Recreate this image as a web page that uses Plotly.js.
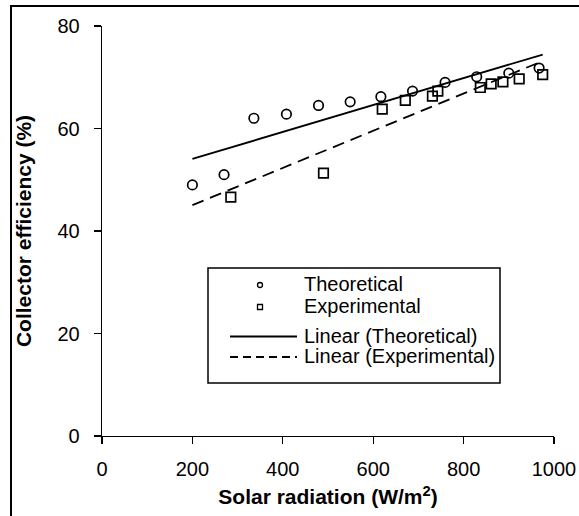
<!DOCTYPE html>
<html>
<head>
<meta charset="utf-8">
<script src="https://cdn.plot.ly/plotly-3.0.1.min.js"></script>
<style>
html,body{margin:0;padding:0;background:#ffffff;}
#chart{width:579px;height:516px;}
</style>
</head>
<body>
<div id="chart"></div>
<script>
// ---- data ----
const theoreticalRadiation = [200, 270, 336, 408, 479, 549, 617, 687, 759, 829, 900, 967];
const theoreticalEfficiency = [49.0, 51.0, 62.0, 62.8, 64.5, 65.2, 66.2, 67.3, 69.0, 70.1, 70.8, 71.8];
const experimentalRadiation = [285, 490, 620, 671, 731, 743, 837, 861, 887, 923, 975];
const experimentalEfficiency = [46.6, 51.3, 63.8, 65.5, 66.3, 67.3, 68.0, 68.7, 69.1, 69.7, 70.5];
const xTickValues = [0, 200, 400, 600, 800, 1000];
const yTickValues = [0, 20, 40, 60, 80];
const seriesNames = ['Theoretical', 'Experimental', 'Linear (Theoretical)', 'Linear (Experimental)'];
const xTitle = 'Solar radiation (W/m<sup>2</sup>)';
const yTitle = 'Collector efficiency (%)';

// ---- least-squares trendlines (Excel "Linear" trendline) ----
function linearFit(xs, ys) {
  const n = xs.length;
  const mx = xs.reduce((s, v) => s + v, 0) / n;
  const my = ys.reduce((s, v) => s + v, 0) / n;
  let sxy = 0, sxx = 0;
  for (let i = 0; i < n; i++) { sxy += (xs[i] - mx) * (ys[i] - my); sxx += (xs[i] - mx) * (xs[i] - mx); }
  const slope = sxy / sxx;
  return { slope: slope, intercept: my - slope * mx };
}
const allX = theoreticalRadiation.concat(experimentalRadiation);
const trendX = [Math.min(...allX), Math.max(...allX)];
const fitT = linearFit(theoreticalRadiation, theoreticalEfficiency);
const fitE = linearFit(experimentalRadiation, experimentalEfficiency);
const trendT = trendX.map(x => fitT.intercept + fitT.slope * x);
const trendE = trendX.map(x => fitE.intercept + fitE.slope * x);

// ---- layout geometry ----
const W = 579, H = 516;
const M = { l: 102, r: 25, t: 26, b: 80 };
const PW = W - M.l - M.r, PH = H - M.t - M.b;
const px = v => (v - M.l) / PW;          // pixel x -> paper
const py = v => (H - M.b - v) / PH;      // pixel y -> paper
const FONT = '"Liberation Sans", Arial, Helvetica, sans-serif';

const traces = [
  { x: theoreticalRadiation, y: theoreticalEfficiency, name: seriesNames[0], type: 'scatter', mode: 'markers',
    marker: { symbol: 'circle-open', size: 9.5, color: '#000', line: { width: 1.7, color: '#000' } }, showlegend: false },
  { x: experimentalRadiation, y: experimentalEfficiency, name: seriesNames[1], type: 'scatter', mode: 'markers',
    marker: { symbol: 'square-open', size: 9.5, color: '#000', line: { width: 1.7, color: '#000' } }, showlegend: false },
  { x: trendX, y: trendT, name: seriesNames[2], type: 'scatter', mode: 'lines',
    line: { color: '#000', width: 1.8 }, showlegend: false },
  { x: trendX, y: trendE, name: seriesNames[3], type: 'scatter', mode: 'lines',
    line: { color: '#000', width: 1.8, dash: '12px,7px' }, showlegend: false }
];

// ---- legend (Excel-style box) ----
const legBox = { x0: 208, x1: 500, y0: 268, y1: 383 };
const legRows = [285, 307, 336.5, 357];
const legTextX = 302;
const shapes = [
  // outer frame of the figure
  { type: 'rect', xref: 'paper', yref: 'paper', x0: px(11), x1: px(640), y0: py(6), y1: py(600),
    line: { color: '#000', width: 2 }, fillcolor: 'rgba(0,0,0,0)' },
  // legend box
  { type: 'rect', xref: 'paper', yref: 'paper', x0: px(legBox.x0), x1: px(legBox.x1), y0: py(legBox.y0), y1: py(legBox.y1),
    line: { color: '#000', width: 1.5 }, fillcolor: '#ffffff', layer: 'above' },
  { type: 'circle', xref: 'paper', yref: 'paper', x0: px(257.5), x1: px(262.5), y0: py(legRows[0] - 2.5), y1: py(legRows[0] + 2.5),
    line: { color: '#000', width: 1.3 } },
  { type: 'rect', xref: 'paper', yref: 'paper', x0: px(257.5), x1: px(262.5), y0: py(legRows[1] - 2.5), y1: py(legRows[1] + 2.5),
    line: { color: '#000', width: 1.3 } },
  { type: 'line', xref: 'paper', yref: 'paper', x0: px(230), x1: px(297), y0: py(legRows[2]), y1: py(legRows[2]),
    line: { color: '#000', width: 1.8 } },
  { type: 'line', xref: 'paper', yref: 'paper', x0: px(230), x1: px(297), y0: py(legRows[3]), y1: py(legRows[3]),
    line: { color: '#000', width: 1.8, dash: '8px,5px' } }
];
const annotations = seriesNames.map((name, i) => ({
  xref: 'paper', yref: 'paper', x: px(legTextX), y: py(legRows[i] - 1), xanchor: 'left', yanchor: 'middle',
  text: name, showarrow: false, font: { family: FONT, size: 20, color: '#000' }
}));

const axisCommon = {
  showgrid: false, zeroline: false, showline: true, linecolor: '#000', linewidth: 1.3,
  ticks: 'outside', ticklen: 7, tickwidth: 1.3, tickcolor: '#000',
  tickfont: { family: FONT, size: 20, color: '#000' }
};

const layout = {
  width: W, height: H,
  margin: M,
  paper_bgcolor: '#ffffff', plot_bgcolor: '#ffffff',
  font: { family: FONT, color: '#000' },
  showlegend: false,
  xaxis: Object.assign({}, axisCommon, {
    range: [0, 1000], tickvals: xTickValues, ticktext: xTickValues.map(String), ticklabelstandoff: 8,
    title: { text: xTitle, font: { family: FONT, size: 21, weight: 'bold', color: '#000' }, standoff: 10 }
  }),
  yaxis: Object.assign({}, axisCommon, {
    range: [0, 80], tickvals: yTickValues, ticktext: yTickValues.map(String), ticklabelstandoff: 10,
    title: { text: yTitle, font: { family: FONT, size: 21, weight: 'bold', color: '#000' }, standoff: 20 }
  }),
  shapes: shapes,
  annotations: annotations
};

Plotly.newPlot('chart', traces, layout, { displayModeBar: false, staticPlot: true });
</script>
</body>
</html>
